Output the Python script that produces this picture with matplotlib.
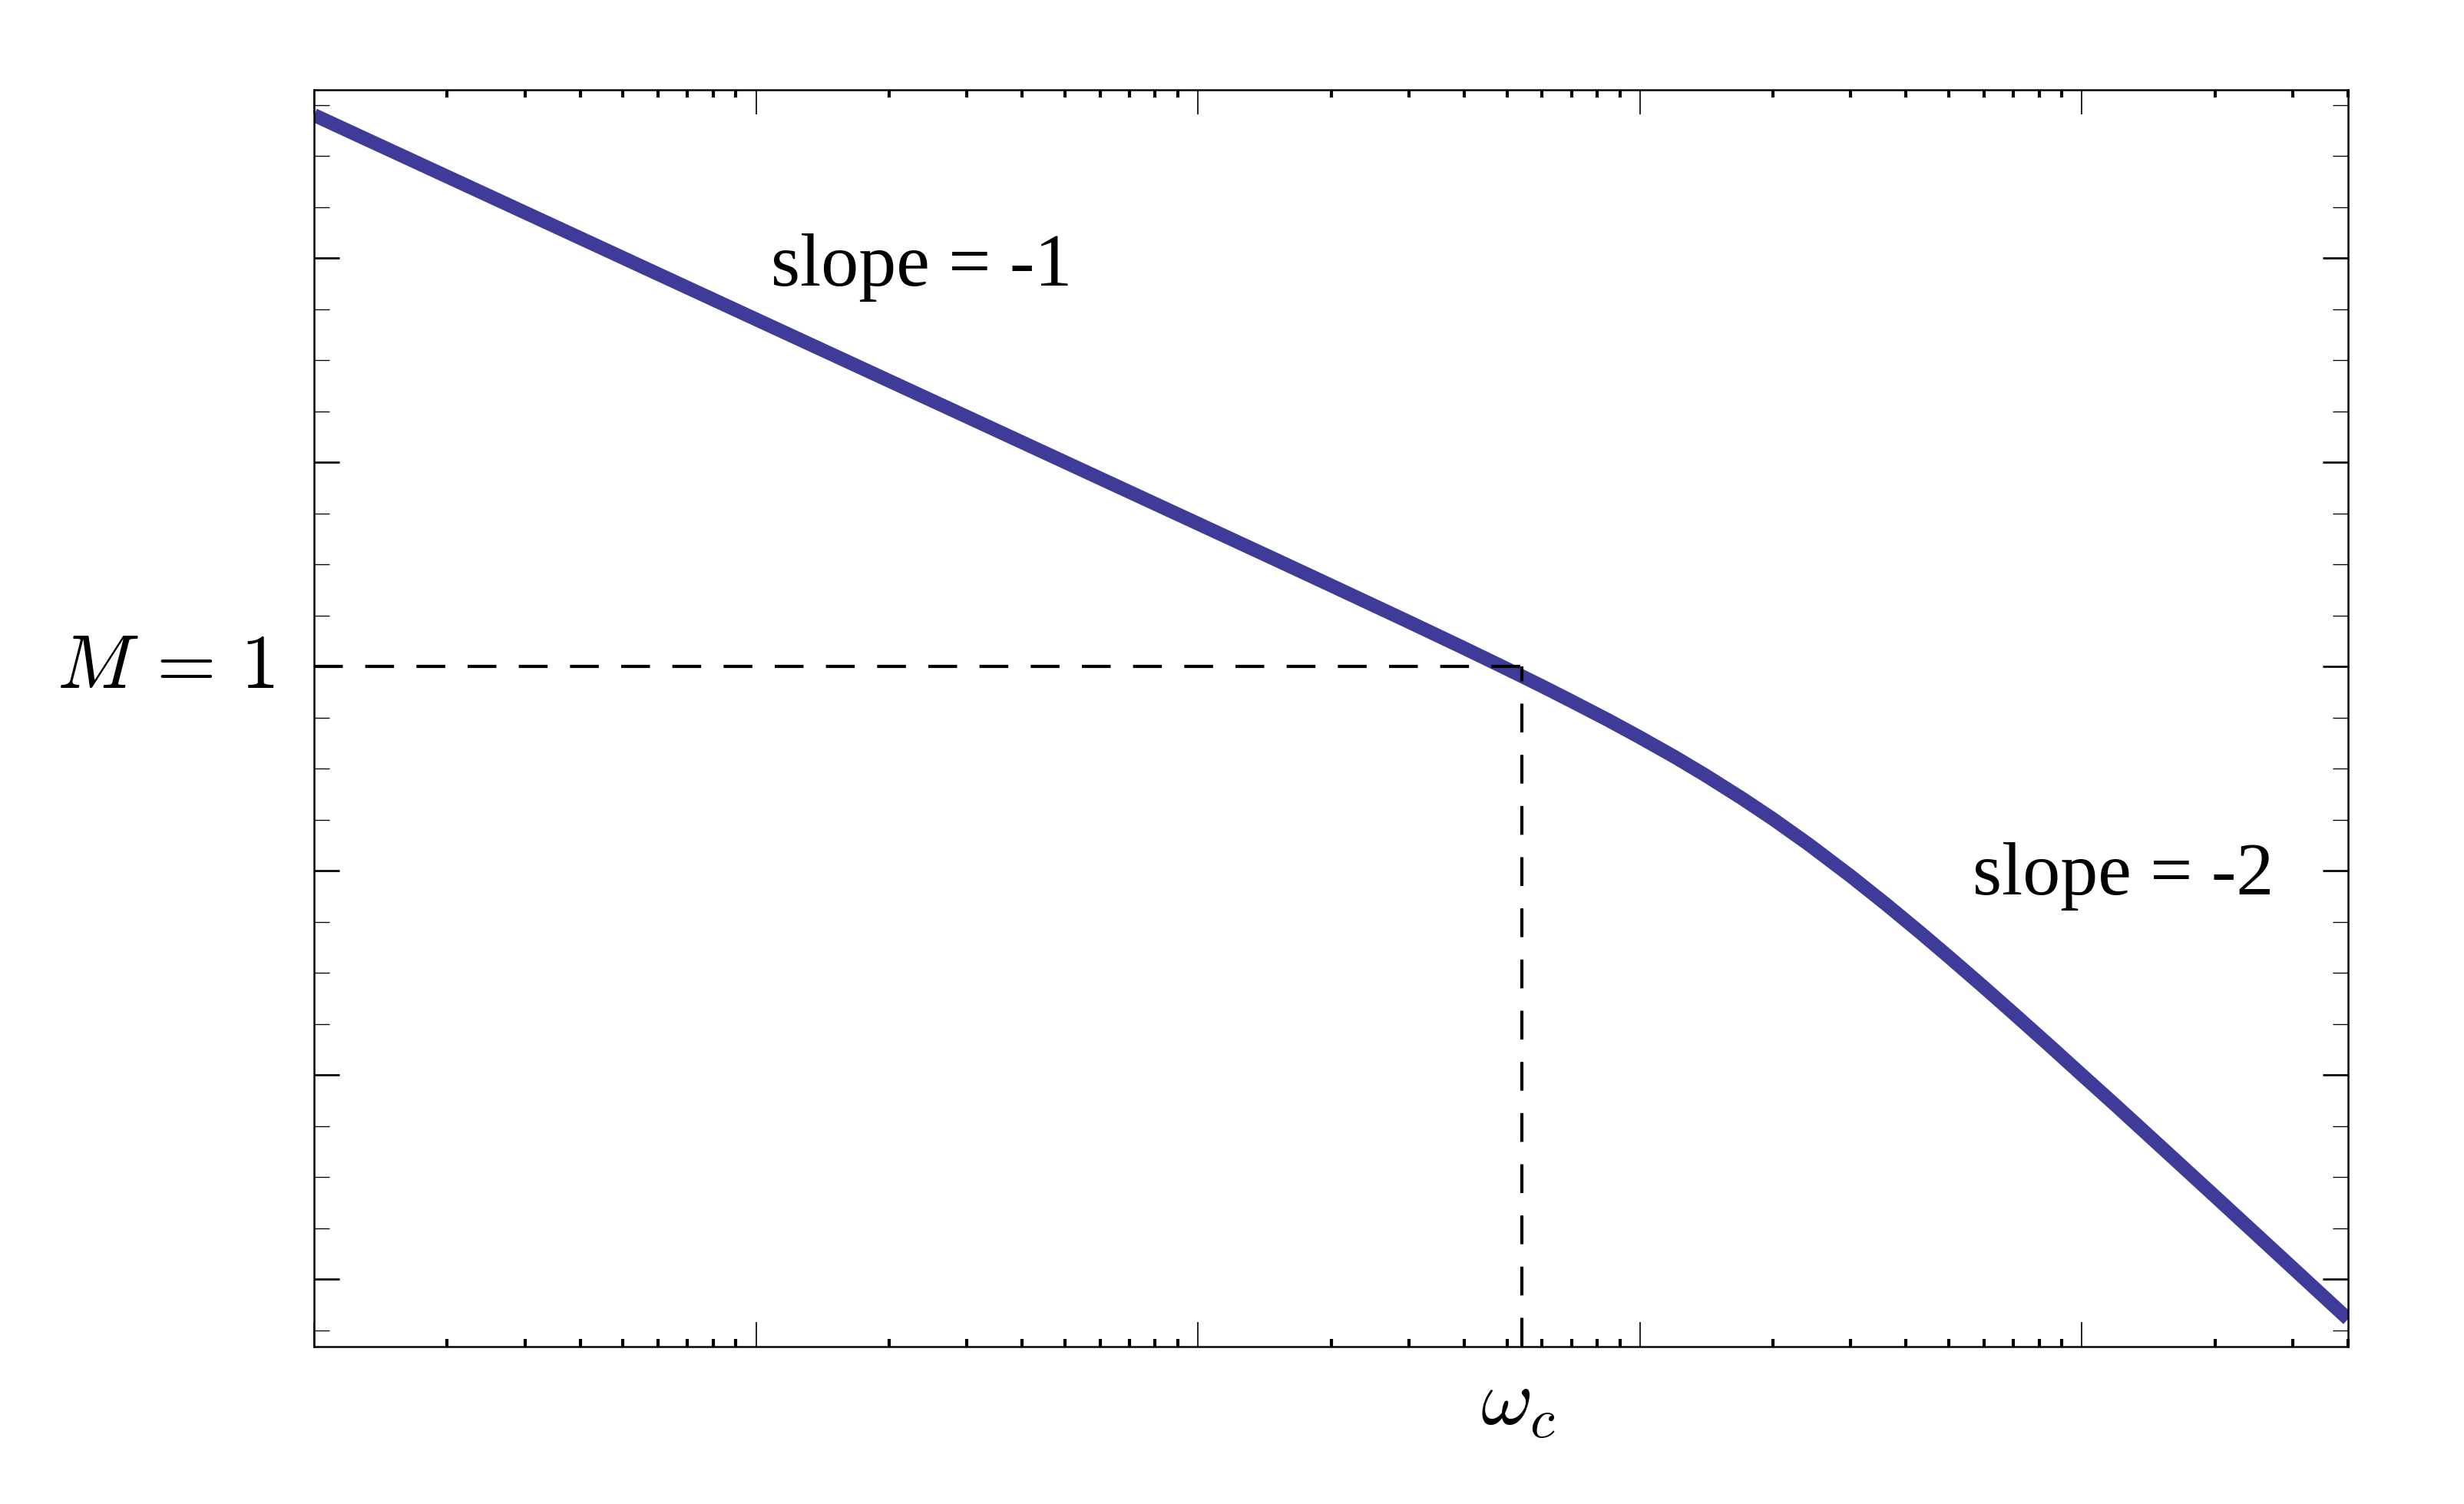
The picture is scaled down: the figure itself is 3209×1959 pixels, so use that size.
import matplotlib
matplotlib.use("Agg")
import matplotlib.pyplot as plt
import matplotlib.transforms as mtransforms
from matplotlib.ticker import LogLocator, MultipleLocator, NullFormatter

# magnitude curve (frequency, dB)
omega = [0.01, 0.03, 0.1, 0.3, 1.0, 1.5, 2.0, 3.0, 4.0, 5.0, 6.0, 7.0, 8.5, 10.0,
         12.0, 14.0, 17.0, 20.0, 24.0, 30.0, 36.0, 43.0, 50.0, 60.0, 70.0, 85.0,
         100.0, 120.0, 150.0, 200.0, 250.0, 300.0, 400.0]
mag_db = [54.0, 44.46, 34.0, 24.46, 13.99, 10.46, 7.94, 4.37, 1.80, -0.23, -1.92, -3.39,
          -5.28, -6.94, -8.87, -10.60, -12.90, -14.94, -17.37, -20.54, -23.27, -26.03,
          -28.44, -31.41, -33.97, -37.23, -40.0, -43.09, -46.93, -51.89, -55.75, -58.91,
          -63.90]

omega_c = 5.4      # crossover marked by the dashed lines
m_one_db = 0.0     # M = 1

slope_labels = ["slope = -1", "slope = -2"]
slope_x = [0.108, 56.6]
slope_y = [37.3, -22.3]

plt.rcParams['mathtext.fontset'] = 'cm'

fig = plt.figure(figsize=(3209 / 300, 1959 / 300), dpi=300)
ax = fig.add_axes([0.12745, 0.10465, 0.8255, 0.8356])

ax.plot(omega, mag_db, color='#3f3b99', linewidth=4.3, solid_capstyle='butt',
        solid_joinstyle='round', zorder=2)

# dashed guides
ax.plot([0.01, omega_c], [m_one_db, m_one_db], color='black', linewidth=1.0,
        dashes=(9, 7), zorder=3)
ax.plot([omega_c, omega_c], [-66.6, m_one_db], color='black', linewidth=1.0,
        dashes=(9, 7), zorder=3)

ax.set_xscale('log')
ax.set_xlim(0.01, 400)
ax.set_ylim(-66.6, 56.47)

ax.xaxis.set_major_locator(LogLocator(base=10, numticks=20))
ax.xaxis.set_minor_locator(LogLocator(base=10, subs=range(2, 10), numticks=20))
ax.yaxis.set_major_locator(MultipleLocator(20))
ax.yaxis.set_minor_locator(MultipleLocator(5))
for a in (ax.xaxis, ax.yaxis):
    a.set_major_formatter(NullFormatter())
    a.set_minor_formatter(NullFormatter())

ax.tick_params(which='both', direction='in', top=True, right=True)
ax.tick_params(axis='x', which='major', length=7.6, width=0.4)
ax.tick_params(axis='x', which='minor', length=2.4, width=1.0)
ax.tick_params(axis='y', which='major', length=7.9, width=0.65)
ax.tick_params(axis='y', which='minor', length=4.7, width=0.32)
for s in ax.spines.values():
    s.set_linewidth(0.6)

# labels
ty = mtransforms.blended_transform_factory(ax.transAxes, ax.transData)
ax.text(-0.0196, m_one_db, r'$M\,=\,1$', transform=ty, ha='right', va='center',
        fontsize=24)
tx = mtransforms.blended_transform_factory(ax.transData, ax.transAxes)
ax.text(omega_c * 0.98, -0.014, r'$\omega_c$', transform=tx, ha='center', va='top',
        fontsize=25)

for lab, x, y in zip(slope_labels, slope_x, slope_y):
    ax.text(x, y, lab, ha='left', va='baseline', fontsize=23.5,
            family='Liberation Serif')

fig.savefig('out.png', dpi=300)
